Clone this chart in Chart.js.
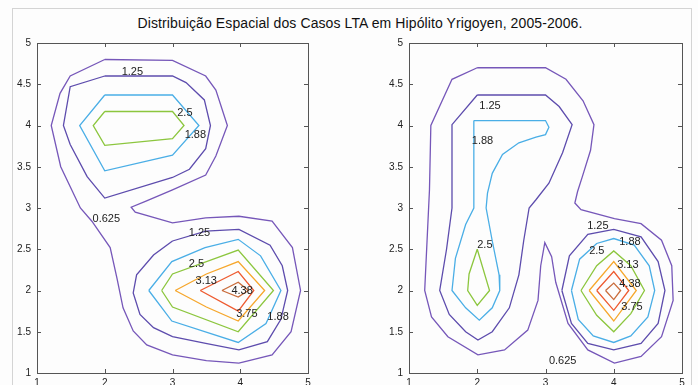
<!DOCTYPE html>
<html lang="pt">
<head>
<meta charset="UTF-8">
<script src="https://cdn.jsdelivr.net/npm/chart.js@4.4.1/dist/chart.umd.min.js"></script>
<title>Distribuição Espacial dos Casos LTA</title>
<style>
  body { margin: 0; background: #fff; }
  #wrap { position: relative; width: 698px; height: 385px; overflow: hidden; background: #fdfdfd; }
  #frame { position: absolute; left: 12px; top: 8px; width: 678px; height: 400px;
           border: 1px solid #d4d4d4; }
  #title { position: absolute; left: 0; width: 720px; top: 15px; text-align: center;
           font: 14px "Liberation Sans", Arial, sans-serif; color: #111; letter-spacing: 0.1px; }
  .pane { position: absolute; top: 0; }
</style>
</head>
<body>
<div id="wrap">
  <div id="frame"></div>
  <div id="title">Distribuição Espacial dos Casos LTA em Hipólito Yrigoyen, 2005-2006.</div>
  <div class="pane" style="left:0"><canvas id="left" width="349" height="385"></canvas></div>
  <div class="pane" style="left:349px"><canvas id="right" width="349" height="385"></canvas></div>
</div>
<script>
// contour levels and their line colours
const levels = ['0.625', '1.25', '1.88', '2.5', '3.13', '3.75', '4.38'];
const levelColors = ['#7657b9', '#5d4cad', '#4aaee6', '#8cc63e', '#f6a72c', '#ee5a2f', '#c96c3b'];
const xTicks = [1, 2, 3, 4, 5];
const yTicks = [1, 1.5, 2, 2.5, 3, 3.5, 4, 4.5, 5];

// ---- left panel contours (x, y) ----
const L0625 = [[2.0,4.8],[3.0,4.79],[3.49,4.6],[3.64,4.43],[3.81,4.0],[3.64,3.63],[3.49,3.4],[3.0,3.22],
  [2.6,3.08],[2.39,3.01],[2.45,2.95],[3.0,2.82],[3.49,2.88],[3.98,2.9],[4.47,2.84],[4.77,2.52],[4.89,2.0],
  [4.75,1.5],[4.47,1.22],[3.98,1.12],[3.5,1.15],[3.0,1.22],[2.62,1.34],[2.42,1.51],[2.27,1.79],[2.18,2.15],
  [2.08,2.52],[1.81,2.84],[1.64,3.0],[1.35,3.5],[1.21,4.0],[1.34,4.39],[1.49,4.6],[2.0,4.8]];
const L125a = [[2.0,4.6],[3.0,4.6],[3.2,4.52],[3.47,4.31],[3.56,4.0],[3.49,3.72],[3.25,3.47],[3.0,3.37],
  [2.0,3.12],[1.74,3.38],[1.49,3.77],[1.39,4.0],[1.49,4.47],[2.0,4.6]];
const L125b = [[3.0,2.6],[3.49,2.72],[3.98,2.74],[4.44,2.55],[4.62,2.3],[4.7,2.0],[4.6,1.65],[4.4,1.38],
  [3.98,1.28],[3.49,1.36],[3.0,1.44],[2.72,1.55],[2.52,1.71],[2.42,1.97],[2.47,2.19],[2.72,2.43],[3.0,2.6]];
const L188a = [[2.0,4.37],[3.0,4.37],[3.39,4.0],[3.0,3.64],[2.0,3.45],[1.63,4.0],[2.0,4.37]];
const L188b = [[2.65,2.0],[2.99,2.35],[3.48,2.52],[3.97,2.62],[4.3,2.42],[4.6,2.0],[4.38,1.6],[3.97,1.37],
  [2.99,1.63],[2.65,2.0]];
const L25a = [[2.0,4.17],[3.0,4.17],[3.17,4.0],[3.0,3.84],[2.0,3.76],[1.83,4.0],[2.0,4.17]];
const L25b = [[2.84,2.0],[3.0,2.2],[3.97,2.49],[4.49,2.0],[3.97,1.5],[3.0,1.8],[2.84,2.0]];
const L313 = [[3.04,2.0],[3.5,2.2],[3.97,2.35],[4.36,2.0],[3.97,1.63],[3.5,1.8],[3.04,2.0]];
const L375 = [[3.41,2.0],[3.97,2.23],[4.2,2.0],[3.97,1.75],[3.41,2.0]];
const L438 = [[3.73,2.0],[3.97,2.1],[4.12,2.0],[3.97,1.92],[3.73,2.0]];

// ---- right panel contours (x, y) ----
const R0625 = [[2.0,4.7],[3.0,4.7],[3.3,4.56],[3.55,4.3],[3.71,4.01],[3.66,3.7],[3.54,3.38],[3.47,3.2],
  [3.43,3.06],[3.52,2.98],[4.01,2.87],[4.4,2.81],[4.7,2.61],[4.85,2.3],[4.87,1.88],[4.7,1.44],[4.4,1.2],
  [4.01,1.12],[3.62,1.28],[3.33,1.6],[3.15,2.1],[3.09,2.41],[2.99,2.58],[2.93,2.3],[2.89,1.88],[2.74,1.52],
  [2.4,1.28],[2.01,1.22],[1.57,1.44],[1.33,1.68],[1.23,2.0],[1.3,3.22],[1.32,4.0],[1.63,4.56],[2.0,4.7]];
const R125a = [[2.0,4.37],[3.0,4.37],[3.2,4.23],[3.39,4.01],[3.25,3.67],[3.05,3.3],[2.86,3.1],[2.76,3.0],
  [2.68,2.6],[2.61,2.19],[2.47,1.79],[2.22,1.5],[2.01,1.4],[1.83,1.5],[1.59,1.71],[1.45,2.0],[1.55,2.5],
  [1.63,3.0],[1.63,4.01],[2.0,4.37]];
const R188a = [[1.95,4.06],[3.0,4.06],[3.05,3.98],[3.0,3.89],[2.86,3.86],[2.61,3.79],[2.37,3.65],[2.22,3.42],
  [2.15,3.18],[2.13,3.0],[2.22,2.6],[2.32,2.19],[2.33,2.0],[2.22,1.79],[2.03,1.64],[1.83,1.79],[1.63,2.0],
  [1.68,2.39],[1.83,2.8],[1.95,3.0],[1.95,4.06]];
const R25a = [[2.0,2.5],[2.18,2.0],[2.0,1.82],[1.86,2.0],[1.88,2.2],[2.0,2.5]];
const R125b = [[3.24,2.0],[3.35,2.42],[3.62,2.68],[4.0,2.74],[4.4,2.65],[4.65,2.35],[4.75,2.0],[4.65,1.6],
  [4.4,1.36],[4.0,1.28],[3.62,1.36],[3.38,1.6],[3.24,2.0]];
const R188b = [[3.38,2.0],[3.5,2.38],[3.75,2.57],[4.0,2.63],[4.3,2.55],[4.52,2.3],[4.6,2.0],[4.5,1.68],
  [4.25,1.45],[4.0,1.37],[3.7,1.45],[3.48,1.65],[3.38,2.0]];
const R25b = [[3.52,2.0],[3.75,2.3],[4.0,2.48],[4.25,2.3],[4.45,2.0],[4.25,1.72],[4.0,1.5],[3.75,1.7],[3.52,2.0]];
const R313 = [[3.64,2.0],[4.0,2.35],[4.33,2.0],[4.0,1.63],[3.64,2.0]];
const R375 = [[3.75,2.0],[4.0,2.23],[4.22,2.0],[4.0,1.76],[3.75,2.0]];
const R438 = [[3.88,2.0],[4.0,2.09],[4.1,2.0],[4.0,1.89],[3.88,2.0]];

// contour labels: text, x, y (left-middle anchor)
const leftLabels = [['1.25',2.25,4.65],['2.5',3.07,4.15],['1.88',3.18,3.88],['0.625',1.82,2.87],
  ['1.25',3.24,2.70],['2.5',3.24,2.32],['3.13',3.34,2.12],['4.38',3.87,1.99],['3.75',3.94,1.72],['1.88',4.40,1.68]];
const rightLabels = [['1.25',2.03,4.24],['1.88',1.92,3.81],['2.5',2.0,2.55],['1.25',3.61,2.78],['1.88',4.08,2.59],
  ['2.5',3.64,2.48],['3.13',4.05,2.31],['4.38',4.08,2.08],['3.75',4.11,1.8],['0.625',3.05,1.15]];

const leftContours = [[L0625,0],[L125a,1],[L125b,1],[L188a,2],[L188b,2],[L25a,3],[L25b,3],[L313,4],[L375,5],[L438,6]];
const rightContours = [[R0625,0],[R125a,1],[R125b,1],[R188a,2],[R188b,2],[R25a,3],[R25b,3],[R313,4],[R375,5],[R438,6]];

const boxPlugin = {
  id: 'box',
  afterDraw(chart, args, opts) {
    const {ctx, chartArea: a, scales: {x, y}} = chart;
    ctx.save();
    ctx.strokeStyle = '#555';
    ctx.lineWidth = 1;
    ctx.strokeRect(Math.round(a.left) + 0.5, Math.round(a.top) + 0.5, Math.round(a.right - a.left), Math.round(a.bottom - a.top));
    ctx.beginPath();
    x.ticks.forEach(t => {
      const p = Math.round(x.getPixelForValue(t.value)) + 0.5;
      ctx.moveTo(p, a.bottom); ctx.lineTo(p, a.bottom - 4);
      ctx.moveTo(p, a.top); ctx.lineTo(p, a.top + 4);
    });
    y.ticks.forEach(t => {
      const p = Math.round(y.getPixelForValue(t.value)) + 0.5;
      ctx.moveTo(a.left, p); ctx.lineTo(a.left + 4, p);
      ctx.moveTo(a.right, p); ctx.lineTo(a.right - 4, p);
    });
    ctx.stroke();
    ctx.fillStyle = '#222';
    ctx.font = '11px "Liberation Sans", Arial, sans-serif';
    ctx.textAlign = 'left';
    ctx.textBaseline = 'middle';
    opts.labels.forEach(l => ctx.fillText(l[0], x.getPixelForValue(l[1]), y.getPixelForValue(l[2])));
    ctx.restore();
  }
};

function makeChart(id, contours, labels, yWidth, rightPad) {
  const datasets = contours.map(c => ({
    data: c[0].map(p => ({x: p[0], y: p[1]})),
    borderColor: levelColors[c[1]],
    borderWidth: 1.3,
    showLine: true,
    pointRadius: 0,
    tension: 0,
    fill: false
  }));
  const tickFont = {family: '"Liberation Sans", Arial, sans-serif', size: 10};
  return new Chart(document.getElementById(id), {
    type: 'scatter',
    data: {datasets},
    options: {
      responsive: false,
      animation: false,
      layout: {padding: {top: 43, right: rightPad, bottom: 0, left: 0}},
      plugins: {legend: {display: false}, tooltip: {enabled: false}, box: {labels}},
      scales: {
        x: {
          type: 'linear', min: 1, max: 5,
          afterBuildTicks: s => { s.ticks = xTicks.map(v => ({value: v})); },
          afterFit: s => { s.height = 12; },
          grid: {display: false, drawTicks: false},
          border: {display: false},
          ticks: {padding: 4, color: '#222', font: tickFont, maxRotation: 0, callback: v => String(v)}
        },
        y: {
          type: 'linear', min: 1, max: 5,
          afterBuildTicks: s => { s.ticks = yTicks.map(v => ({value: v})); },
          afterFit: s => { s.width = yWidth; },
          grid: {display: false, drawTicks: false},
          border: {display: false},
          ticks: {padding: 6, color: '#222', font: tickFont, callback: v => String(v)}
        }
      }
    },
    plugins: [boxPlugin]
  });
}

makeChart('left', leftContours, leftLabels, 37, 41);
makeChart('right', rightContours, rightLabels, 60, 16);
</script>
</body>
</html>
